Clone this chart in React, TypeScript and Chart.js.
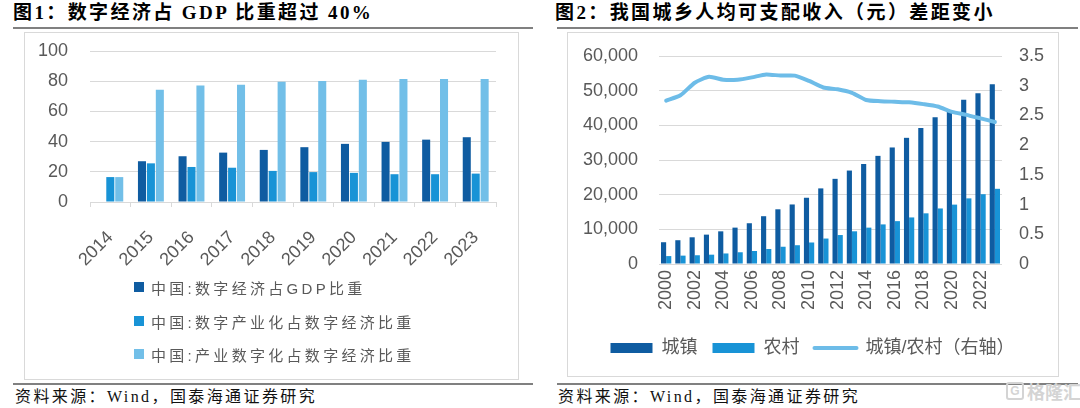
import React, { useEffect, useRef } from 'react';
import { Chart, registerables } from 'chart.js';

Chart.register(...registerables);

// ---------- Figure 1 data ----------
const years1 = ['2014', '2015', '2016', '2017', '2018', '2019', '2020', '2021', '2022', '2023'];
const digitalShareOfGDP = [null, 27.0, 30.3, 32.7, 34.5, 36.3, 38.5, 39.8, 41.3, 42.9];
const digitalIndustrializationShare = [16.5, 25.6, 23.2, 22.7, 20.6, 19.8, 19.3, 18.4, 18.4, 18.8];
const industrialDigitizationShare = [16.5, 74.3, 77.1, 77.6, 79.6, 80.1, 80.9, 81.4, 81.4, 81.4];
const legend1Labels = ['中国:数字经济占GDP比重', '中国:数字产业化占数字经济比重', '中国:产业数字化占数字经济比重'];

// ---------- Figure 2 data ----------
const years2 = ['2000', '2001', '2002', '2003', '2004', '2005', '2006', '2007', '2008', '2009', '2010', '2011',
  '2012', '2013', '2014', '2015', '2016', '2017', '2018', '2019', '2020', '2021', '2022', '2023'];
const urbanIncome = [6280, 6860, 7703, 8472, 9422, 10493, 11759, 13786, 15781, 17175, 19109, 21810,
  24565, 26955, 28844, 31195, 33616, 36396, 39251, 42359, 43834, 47412, 49283, 51821];
const ruralIncome = [2284, 2415, 2526, 2690, 3040, 3385, 3745, 4322, 4978, 5418, 6204, 7343,
  8355, 9430, 10489, 11422, 12363, 13432, 14617, 16021, 17131, 18931, 20133, 21691];
const urbanRuralRatio = [2.75, 2.84, 3.05, 3.15, 3.10, 3.10, 3.14, 3.19, 3.17, 3.17, 3.08, 2.97,
  2.94, 2.88, 2.76, 2.74, 2.73, 2.72, 2.69, 2.65, 2.56, 2.51, 2.45, 2.39];
const legend2Labels = ['城镇', '农村', '城镇/农村（右轴）'];

const DARK = '#0F5CA1';
const MID = '#1893D6';
const LIGHT = '#72BFE8';
const LINE = '#6DBCE8';
const GRID = '#D9D9D9';
const TICK = '#595959';
const tickFont = { family: '"Liberation Sans", Arial, sans-serif', size: 18 };

function LeftChart() {
  const ref = useRef<HTMLCanvasElement>(null);
  useEffect(() => {
    const chart = new Chart(ref.current as HTMLCanvasElement, {
      type: 'bar',
      data: {
        labels: years1,
        datasets: [
          { label: legend1Labels[0], data: digitalShareOfGDP, backgroundColor: DARK },
          { label: legend1Labels[1], data: digitalIndustrializationShare, backgroundColor: MID },
          { label: legend1Labels[2], data: industrialDigitizationShare, backgroundColor: LIGHT },
        ].map((d) => ({ ...d, categoryPercentage: 0.66, barPercentage: 0.9 })) as any,
      },
      options: {
        animation: false,
        responsive: false,
        maintainAspectRatio: false,
        layout: { padding: { left: 13, right: 22, top: 18, bottom: 106 } },
        plugins: { legend: { display: false }, tooltip: { enabled: false } },
        scales: {
          x: {
            grid: { display: true, drawOnChartArea: false, drawTicks: true, tickLength: 5, color: GRID, offset: true },
            border: { display: true, color: GRID },
            ticks: { font: tickFont, color: TICK, minRotation: 45, maxRotation: 45, padding: 20, autoSkip: false },
            afterFit: (s: any) => { s.height = 70; },
          },
          y: {
            min: 0,
            max: 100,
            ticks: { stepSize: 20, padding: 2, font: tickFont, color: TICK },
            grid: { color: GRID, drawTicks: true, tickLength: 20, tickColor: 'rgba(0,0,0,0)' },
            border: { display: false },
            afterFit: (s: any) => { s.width = 52; },
          },
        },
      } as any,
    });
    return () => chart.destroy();
  }, []);
  return <canvas ref={ref} width={493} height={345} style={{ position: 'absolute', left: 0, top: 0, width: 493, height: 345 }} />;
}

function RightChart() {
  const ref = useRef<HTMLCanvasElement>(null);
  useEffect(() => {
    const chart = new Chart(ref.current as HTMLCanvasElement, {
      type: 'bar',
      data: {
        labels: years2,
        datasets: [
          { type: 'bar', label: legend2Labels[0], data: urbanIncome, backgroundColor: DARK, categoryPercentage: 0.72, barPercentage: 1.0, yAxisID: 'y', order: 1 },
          { type: 'bar', label: legend2Labels[1], data: ruralIncome, backgroundColor: MID, categoryPercentage: 0.72, barPercentage: 1.0, yAxisID: 'y', order: 1 },
          {
            type: 'line', label: legend2Labels[2], data: urbanRuralRatio, borderColor: LINE, backgroundColor: LINE,
            borderWidth: 4, pointRadius: 0, borderJoinStyle: 'round', borderCapStyle: 'round', tension: 0.2, yAxisID: 'y1', order: 0,
          },
        ] as any,
      },
      options: {
        animation: false,
        responsive: false,
        maintainAspectRatio: false,
        layout: { padding: { left: 10, right: 11, top: 23, bottom: 8 } },
        plugins: {
          tooltip: { enabled: false },
          legend: {
            position: 'bottom',
            labels: {
              font: { family: '"Liberation Sans", "Noto Sans CJK SC", sans-serif', size: 18 },
              color: TICK,
              usePointStyle: true,
              pointStyleWidth: 42,
              boxHeight: 10,
              padding: 15,
              generateLabels: (c: any) => {
                const items = (Chart.defaults.plugins.legend.labels as any).generateLabels(c);
                items.sort((a: any, b: any) => a.datasetIndex - b.datasetIndex);
                return items.map((it: any) =>
                  it.datasetIndex === 2
                    ? { ...it, pointStyle: 'line', lineWidth: 4, strokeStyle: LINE, lineCap: 'round', fontColor: TICK }
                    : { ...it, pointStyle: 'rect', lineWidth: 0, fontColor: TICK });
              },
            },
          },
        },
        scales: {
          x: {
            grid: { display: false, drawTicks: false },
            border: { display: false },
            ticks: {
              font: tickFont, color: TICK, minRotation: 90, maxRotation: 90, padding: 6, autoSkip: false,
              callback: (_v: any, i: number) => (i % 2 === 0 ? years2[i] : ''),
            },
            afterFit: (s: any) => { s.height = 60; },
          },
          y: {
            position: 'left',
            min: 0,
            max: 60000,
            ticks: { stepSize: 10000, padding: 2, font: tickFont, color: TICK, callback: (v: any) => Number(v).toLocaleString('en-US') },
            grid: { color: GRID, drawTicks: true, tickLength: 19, tickColor: 'rgba(0,0,0,0)' },
            border: { display: false },
            afterFit: (s: any) => { s.width = 81; },
          },
          y1: {
            position: 'right',
            min: 0,
            max: 3.5,
            ticks: { stepSize: 0.5, padding: 2, font: tickFont, color: TICK, callback: (v: any) => String(v) },
            grid: { display: true, drawOnChartArea: false, drawTicks: true, tickLength: 15, tickColor: 'rgba(0,0,0,0)' },
            border: { display: false },
            afterFit: (s: any) => { s.width = 45; },
          },
        },
      } as any,
    });
    return () => chart.destroy();
  }, []);
  return <canvas ref={ref} width={490} height={342} style={{ position: 'absolute', left: 0, top: 0, width: 490, height: 342 }} />;
}

const titleStyle = (left: number): React.CSSProperties => ({
  position: 'absolute', left, top: 3, fontFamily: '"Liberation Serif", "Noto Sans CJK SC", serif', fontWeight: 'bold',
  fontSize: 19, lineHeight: '20px', letterSpacing: '2.4px', color: '#000', whiteSpace: 'nowrap',
});
const sourceStyle = (left: number): React.CSSProperties => ({
  position: 'absolute', left, top: 388, fontFamily: '"Liberation Serif", "Noto Sans CJK SC", serif',
  fontSize: 16, lineHeight: '18px', letterSpacing: '2.4px', color: '#111', whiteSpace: 'nowrap',
});
const rule = (left: number, top: number, width: number): React.CSSProperties => ({
  position: 'absolute', left, top, width, height: 2, background: '#808080',
});
const boxStyle = (left: number, top: number, width: number, height: number): React.CSSProperties => ({
  position: 'absolute', left, top, width, height, border: '1px solid #D9D9D9', boxSizing: 'border-box', overflow: 'hidden',
});

export default function App() {
  const legendColors = [DARK, MID, LIGHT];
  const legendRows = [287, 321, 354];
  return (
    <div style={{ position: 'absolute', left: 0, top: 0, width: 1080, height: 408, background: '#fff', overflow: 'hidden' }}>
      {/* Figure 1 */}
      <div style={titleStyle(13)}>图1：数字经济占 GDP 比重超过 40%</div>
      <div style={rule(13, 27, 520)} />
      <div style={boxStyle(24, 32, 495, 348)}>
        <div style={{ position: 'absolute', left: 0, top: 0 }}>
          <LeftChart />
        </div>
      </div>
      {legend1Labels.map((t, i) => (
        <div key={t} style={{ position: 'absolute', left: 134, top: legendRows[i] - 10, height: 20, display: 'flex', alignItems: 'center', whiteSpace: 'nowrap' }}>
          <div style={{ width: 10, height: 10, background: legendColors[i], marginRight: 7 }} />
          <span style={{ fontFamily: '"Liberation Sans", "Noto Sans CJK SC", sans-serif', fontSize: 15, letterSpacing: '3.3px', color: TICK }}>{t}</span>
        </div>
      ))}
      <div style={rule(13, 383, 520)} />
      <div style={sourceStyle(15)}>资料来源：Wind，国泰海通证券研究</div>

      {/* Figure 2 */}
      <div style={titleStyle(555)}>图2：我国城乡人均可支配收入（元）差距变小</div>
      <div style={rule(557, 27, 521)} />
      <div style={boxStyle(567, 32, 492, 345)}>
        <div style={{ position: 'absolute', left: 0, top: 0 }}>
          <RightChart />
        </div>
      </div>
      <div style={rule(557, 383, 521)} />
      <div style={sourceStyle(558)}>资料来源：Wind，国泰海通证券研究</div>
      <div style={{ position: 'absolute', left: 1006, top: 381, display: 'flex', alignItems: 'center', color: '#D4D4D4', fontFamily: '"Noto Sans CJK SC", sans-serif', fontWeight: 'bold', fontSize: 18, lineHeight: '20px', whiteSpace: 'nowrap' }}>
        <span style={{ display: 'inline-block', border: '2px solid #D4D4D4', borderRadius: 3, width: 14, height: 14, fontSize: 12, lineHeight: '14px', textAlign: 'center', marginRight: 3, fontFamily: '"Liberation Sans", sans-serif' }}>G</span>
        格隆汇
      </div>
    </div>
  );
}
